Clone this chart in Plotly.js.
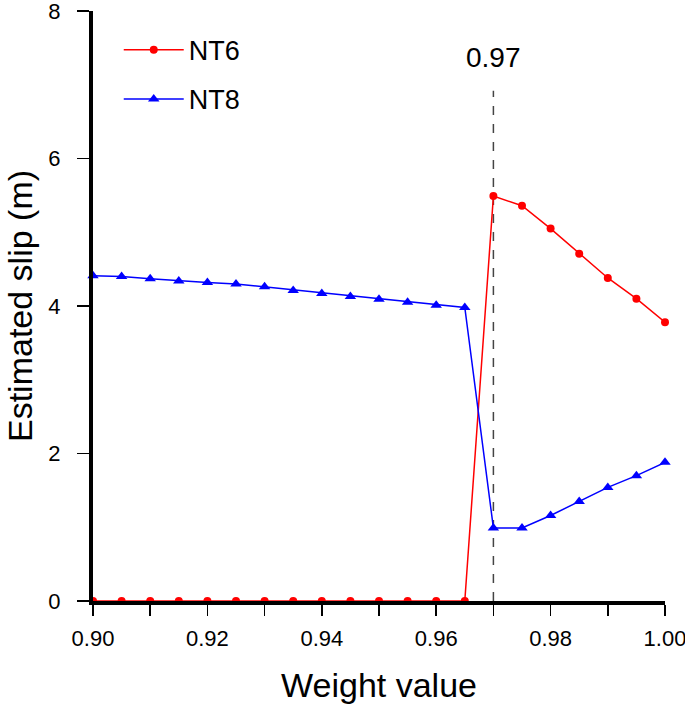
<!DOCTYPE html>
<html>
<head>
<meta charset="utf-8">
<script src="https://cdn.plot.ly/plotly-3.0.1.min.js"></script>
<style>
  html, body { margin: 0; padding: 0; background: #fff; }
  #chart { width: 685px; height: 708px; }
</style>
</head>
<body>
<div id="chart"></div>
<script>
"use strict";

// weight values (x) shared by both series
var weightValues = [0.900, 0.905, 0.910, 0.915, 0.920, 0.925, 0.930, 0.935, 0.940, 0.945, 0.950,
                    0.955, 0.960, 0.965, 0.970, 0.975, 0.980, 0.985, 0.990, 0.995, 1.000];

// estimated slip (m)
var nt6Slip = [0, 0, 0, 0, 0, 0, 0, 0, 0, 0, 0,
               0, 0, 0, 5.49, 5.36, 5.05, 4.71, 4.38, 4.10, 3.78];
var nt8Slip = [4.41, 4.40, 4.37, 4.34, 4.32, 4.30, 4.26, 4.21, 4.17, 4.13, 4.09,
               4.05, 4.01, 3.98, 0.99, 0.99, 1.16, 1.35, 1.54, 1.70, 1.88];

var chosenWeight = 0.97;
var yTickValues = [0, 2, 4, 6, 8];

var fontFamily = '"Liberation Sans", Arial, Helvetica, sans-serif';

var nt6Trace = {
    x: weightValues,
    y: nt6Slip,
    name: 'NT6',
    legendgroup: 'nt6',
    type: 'scatter',
    mode: 'lines+markers',
    line: { color: '#ff0000', width: 1.5 },
    marker: { color: '#ff0000', symbol: 'circle', size: 8 },
    cliponaxis: false
};
var nt8Trace = {
    x: weightValues,
    y: nt8Slip,
    name: 'NT8',
    legendgroup: 'nt8',
    type: 'scatter',
    mode: 'lines+markers',
    line: { color: '#0000ff', width: 1.5 },
    marker: { color: '#0000ff', symbol: 'triangle-up', size: 10 },
    cliponaxis: false
};

var layout = {
    width: 685,
    height: 708,
    margin: { l: 93, r: 20, t: 11, b: 107, pad: 0 },
    paper_bgcolor: '#ffffff',
    plot_bgcolor: '#ffffff',
    font: { family: fontFamily, color: '#000000', size: 21 },
    showlegend: true,
    legend: {
        x: 0.045, y: 0.975, xanchor: 'left', yanchor: 'top',
        font: { size: 27 },
        bgcolor: 'rgba(0,0,0,0)',
        tracegroupgap: 11,
        itemwidth: 60
    },
    xaxis: {
        range: [0.9, 1.0],
        dtick: 0.02,
        tick0: 0.9,
        tickformat: '.2f',
        ticks: 'outside',
        ticklen: 11,
        tickwidth: 1.5,
        tickcolor: '#000',
        minor: { dtick: 0.01, ticks: 'outside', ticklen: 11, tickwidth: 1.5, tickcolor: '#000' },
        showline: true,
        linewidth: 4,
        linecolor: '#000',
        showgrid: false,
        zeroline: false,
        ticklabelstandoff: 4,
        ticklabeloverflow: 'allow',
        tickfont: { size: 22 },
        title: { text: 'Weight value', font: { size: 34 }, standoff: 24 }
    },
    yaxis: {
        range: [0, 8.0001],
        tickvals: yTickValues,
        ticks: 'outside',
        ticklen: 12,
        tickwidth: 1.5,
        tickcolor: '#000',
        showline: true,
        linewidth: 4,
        linecolor: '#000',
        showgrid: false,
        zeroline: false,
        ticklabelstandoff: 12,
        ticklabeloverflow: 'allow',
        tickfont: { size: 22 }
    },
    shapes: [{
        type: 'line',
        xref: 'x', yref: 'y',
        x0: chosenWeight, x1: chosenWeight,
        y0: 0, y1: 6.92,
        line: { color: '#444444', width: 1.5, dash: 'dash' },
        layer: 'below'
    }],
    annotations: [{
        xref: 'x', yref: 'y',
        x: chosenWeight, y: 7.37,
        text: chosenWeight.toFixed(2),
        showarrow: false,
        font: { size: 28 },
        xanchor: 'center', yanchor: 'middle'
    }, {
        // y axis title, set as an annotation so it can sit close to the page edge
        xref: 'paper', yref: 'paper',
        x: 0, y: 0.5, xshift: -73,
        text: 'Estimated slip (m)',
        textangle: -90,
        showarrow: false,
        font: { size: 34 },
        xanchor: 'center', yanchor: 'middle'
    }]
};

Plotly.newPlot('chart', [nt6Trace, nt8Trace], layout, { staticPlot: true, displayModeBar: false });
</script>
</body>
</html>
